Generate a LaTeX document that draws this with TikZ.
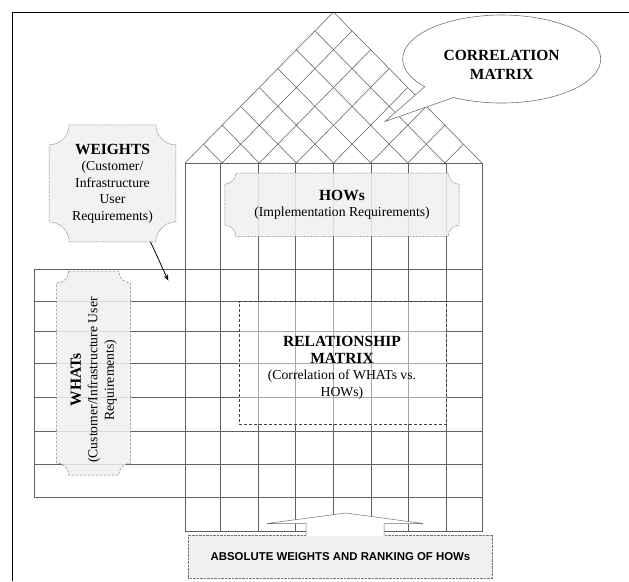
\documentclass[tikz,border=0pt]{standalone}
\usepackage{fontspec}
\setmainfont{Liberation Serif}
\setsansfont{Liberation Sans}
\usetikzlibrary{calc,arrows.meta}
\pgfdeclarelayer{gridlayer}
\pgfdeclarelayer{boxlayer}
\pgfsetlayers{gridlayer,boxlayer,main}
\newcommand\qfdbold{\fontsize{15.5}{18}\selectfont\bfseries}
\newcommand\qfdplaque[4]{%
 \path[#4] let \p1=#1, \p2=#2 in
 (\x1+#3,\y1) -- (\x2-#3,\y1)
 .. controls (\x2-#3,\y1-0.55*#3) and (\x2-0.55*#3,\y1-#3) .. (\x2,\y1-#3)
 -- (\x2,\y2+#3)
 .. controls (\x2-0.55*#3,\y2+#3) and (\x2-#3,\y2+0.55*#3) .. (\x2-#3,\y2)
 -- (\x1+#3,\y2)
 .. controls (\x1+#3,\y2+0.55*#3) and (\x1+0.55*#3,\y2+#3) .. (\x1,\y2+#3)
 -- (\x1,\y1-#3)
 .. controls (\x1+0.55*#3,\y1-#3) and (\x1+#3,\y1-0.55*#3) .. cycle;}
\begin{document}
\begin{tikzpicture}[x=1pt,y=-1pt,line join=miter,
  gridline/.style={draw=black!62,line width=0.55pt},
  plaquebox/.style={draw=black!55,fill=black!6,fill opacity=0.85,line width=0.5pt,dash pattern=on 0.7pt off 0.7pt},
  whatsbox/.style={draw=black!50,fill=black!6,fill opacity=0.85,line width=0.5pt,dash pattern=on 2.5pt off 1.5pt},
  relframe/.style={draw=black!75,fill=white,fill opacity=0.45,line width=0.6pt,dash pattern=on 3pt off 2pt},
  boldtitle/.style={font=\fontsize{15.5}{18.5}\selectfont\bfseries,align=center,inner sep=0pt},
  bodytext/.style={font=\fontsize{13.7}{16.5}\selectfont,align=center,inner sep=0pt},
  callout/.style={draw=black!55,fill=white,line width=0.6pt},
  blockarrow/.style={draw=black!55,line width=0.5pt},
  frame/.style={draw=black,line width=1.8pt}]
\useasboundingbox (0,0) rectangle (629,581);
\begin{pgfonlayer}{gridlayer}
\fill[white] (0,0) rectangle (629,581);
\foreach \x in {185,220,258,295,333,371,408,446,482} \draw[gridline] (\x,163) -- (\x,531.7);
\foreach \y in {269,301.5,331,363.3,397.7,431.7,464.7,497.7} \draw[gridline] (34,\y) -- (482,\y);
\draw[gridline] (185,163) -- (482,163);
\draw[gridline] (185,531.7) -- (482,531.7);
\draw[gridline] (34,269) -- (34,497.7);
\coordinate (rA) at (185,163);
\coordinate (rB) at (482,163);
\coordinate (rP) at (333.5,12);
\draw[gridline] (rA) -- (rP) -- (rB);
\foreach \i in {1,...,7}{
  \draw[gridline] ($(rA)!{\i/8}!(rB)$) -- ($(rB)!{(8-\i)/8}!(rP)$);
  \draw[gridline] ($(rA)!{\i/8}!(rB)$) -- ($(rA)!{\i/8}!(rP)$);
}
\end{pgfonlayer}
% frame
\draw[frame] (12.5,581) -- (12.5,12.5) -- (629,12.5);
% weights
\node[bodytext,minimum width=126.4pt,minimum height=116.7pt] (weights) at (112.5,183.4)
  {{\qfdbold WEIGHTS}\\(Customer/\\Infrastructure\\User\\Requirements)};
\begin{pgfonlayer}{boxlayer}
\qfdplaque{(weights.north west)}{(weights.south east)}{20pt}{plaquebox}
\end{pgfonlayer}
\coordinate (wtip) at (168.3,280.7);
\draw[line width=0.8pt,-{Stealth[length=6pt,width=4.5pt]}] ($(weights.south west)!0.8!(weights.south east)$) -- (wtip);
% hows
\node[bodytext,minimum width=234pt,minimum height=62.7pt] (hows) at (342,204.7)
  {{\qfdbold HOWs}\\(Implementation Requirements)};
\begin{pgfonlayer}{boxlayer}
\qfdplaque{(hows.north west)}{(hows.south east)}{11pt}{plaquebox}
\end{pgfonlayer}
% whats
\coordinate (whnw) at (56.7,271);
\coordinate (whse) at (130.7,475);
\begin{pgfonlayer}{boxlayer}
\qfdplaque{(whnw)}{(whse)}{12pt}{whatsbox}
\end{pgfonlayer}
\node[bodytext,rotate=90] (whats) at (93.7,380)
  {{\qfdbold WHATs}\\(Customer/Infrastructure User\\Requirements)};
% relationship
\begin{pgfonlayer}{boxlayer}
\node[relframe,minimum width=207.4pt,minimum height=122.6pt] (relbox) at (343,363) {};
\end{pgfonlayer}
\node[bodytext] (reltext) at (342,368)
  {{\qfdbold RELATIONSHIP}\\{\qfdbold MATRIX}\\(Correlation of WHATs vs.\\HOWs)};
% callout
\coordinate (tip) at (385,121.5);
\draw[callout] (453.7,97.5) arc[start angle=241,end angle=579,x radius=99pt,y radius=44pt] -- (tip) -- cycle;
\node[boldtitle] (corr) at (501.7,65) {CORRELATION\\MATRIX};
% bottom box
\node[draw=black!55,fill=black!6,line width=0.5pt,dash pattern=on 0.7pt off 0.7pt,
  minimum width=304.4pt,minimum height=43.3pt,
  font=\sffamily\bfseries\fontsize{11.4}{13}\selectfont] (absw) at (340.5,556.7)
  {ABSOLUTE WEIGHTS AND RANKING OF HOWs};
\coordinate (ah) at (345.5,513);
\fill[white] (306,536.2) -- (306,523.5) -- (267,523.5) -- (ah) -- (423,523.5) -- (384,523.5) -- (384,536.2) -- cycle;
\draw[blockarrow] (306,535) -- (306,523.5) -- (267,523.5) -- (ah) -- (423,523.5) -- (384,523.5) -- (384,535);
\end{tikzpicture}
\end{document}
